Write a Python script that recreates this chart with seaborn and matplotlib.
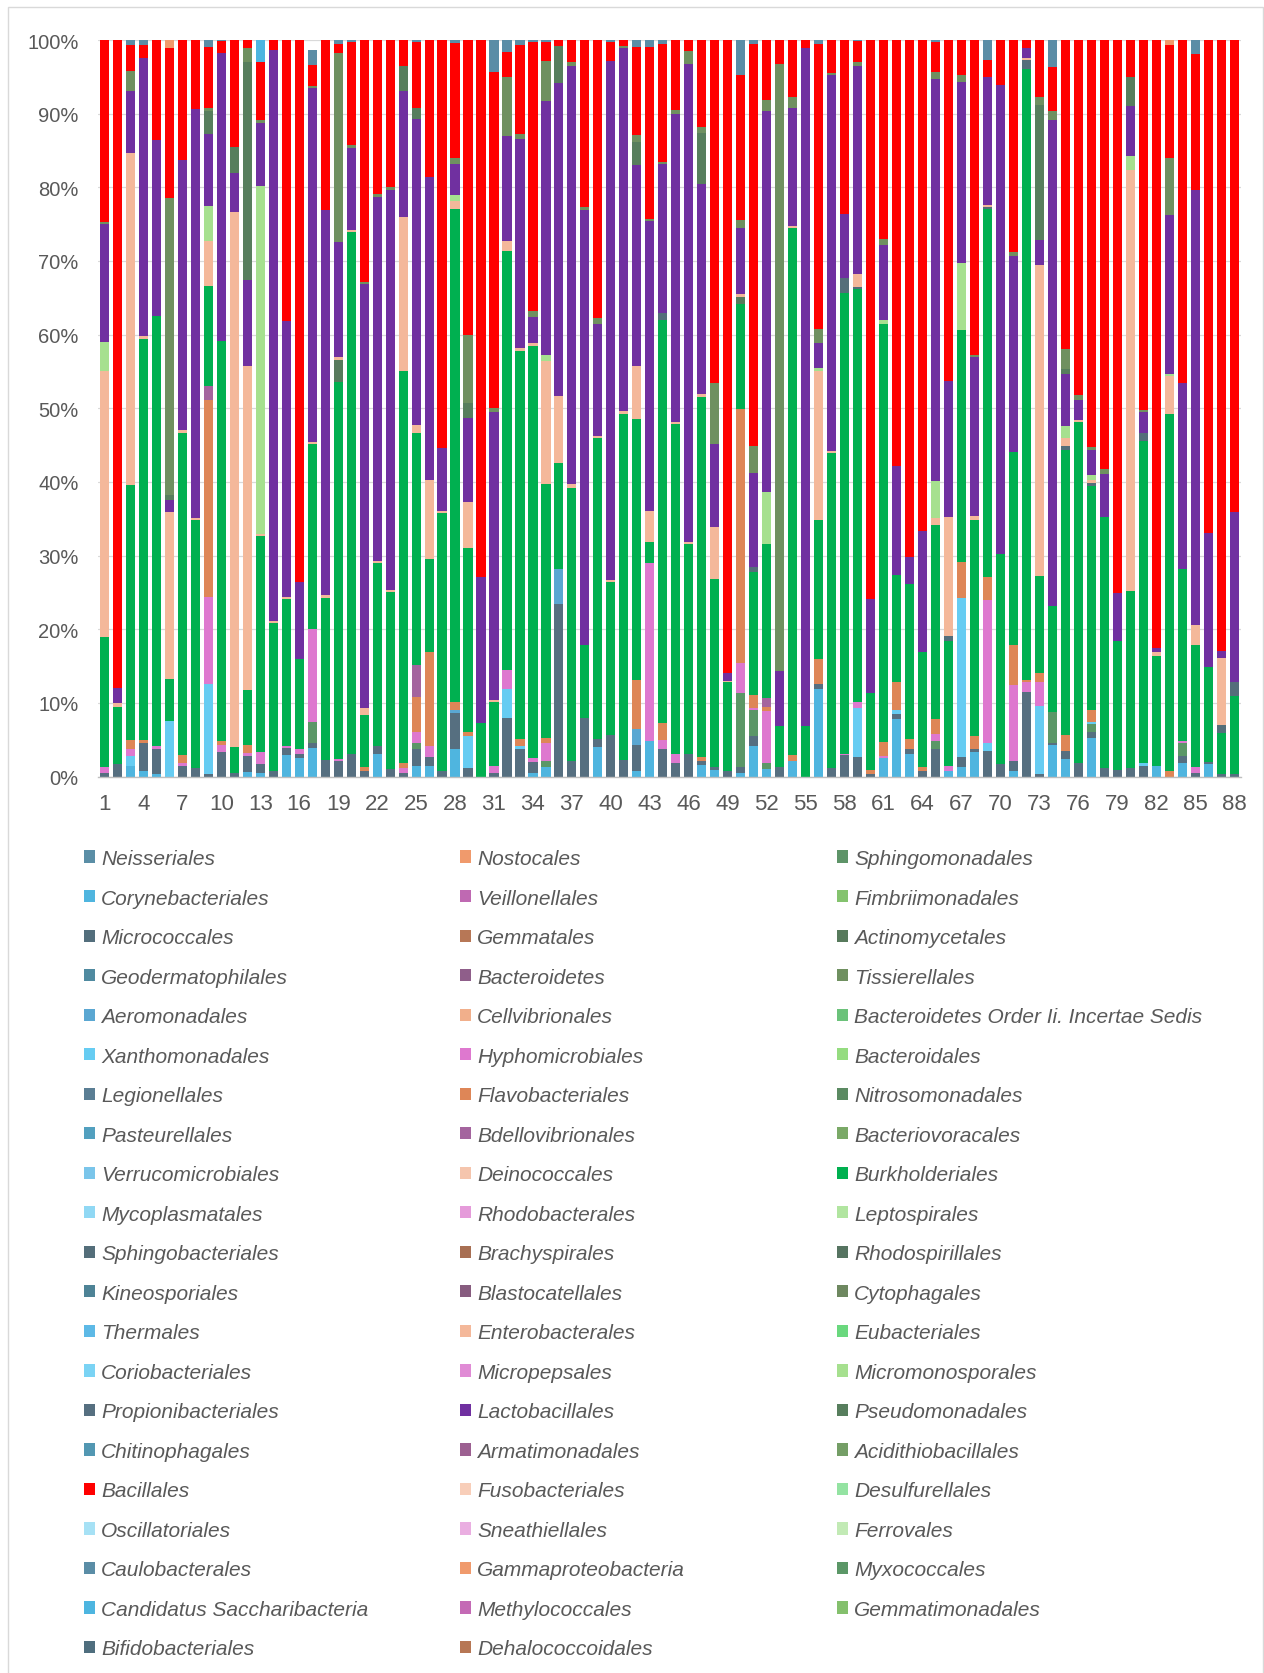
import numpy as np
import pandas as pd
import matplotlib
matplotlib.use('Agg')
import matplotlib.pyplot as plt
from matplotlib.patches import Patch, Rectangle
import seaborn as sns

# Samples 1..88 (relative abundance per order, %)
samples = list(range(1, 89))

bacillales = [
    24.7, 88, 3.5, 1.8, 13.6, 20.4, 16.3, 9.3, 8.2, 1.5,
    14.5, 1.1, 7.8, 1.3, 38.1, 73.6, 2.8, 23.1, 1.2, 14,
    32.8, 20.9, 19.9, 3.5, 8.9, 18.6, 55.4, 15.6, 40, 72.9,
    45.7, 3.4, 12, 36.5, 2.5, 0.8, 3, 22.7, 37.8, 2.5,
    0.8, 11.9, 23.3, 15.9, 9.5, 1.5, 11.8, 46.5, 86, 19.7,
    54.6, 8.1, 3.3, 7.8, 1.1, 38.8, 4.5, 23.6, 2.8, 75.9,
    27, 57.9, 70.2, 66.6, 4, 46.3, 4.8, 42.7, 2.3, 6.1,
    28.8, 1.1, 7.7, 6, 41.9, 48.2, 55.3, 58.2, 75.1, 5,
    50.2, 82.6, 15.3, 46.5, 18.4, 66.9, 82.9, 64.1]

lactobacillales = [
    16, 2, 8.4, 37.7, 23.9, 1.6, 36.7, 55.6, 9.8, 39.1,
    5.3, 11.7, 8.6, 77.6, 37.5, 10.4, 48.1, 52.3, 15.6, 11.2,
    57.6, 49.4, 54.4, 17.1, 41.6, 41.2, 8.5, 4.3, 11.4, 19.8,
    39.1, 14.3, 28.4, 3.5, 34.5, 42.4, 56.8, 59.1, 15.3, 70.5,
    49.2, 27.3, 39.3, 20.2, 41.8, 64.9, 28.5, 11.2, 1, 9,
    12.7, 51.7, 7.6, 16, 92.1, 3.4, 51, 8.7, 28.2, 12.8,
    10.2, 14.8, 3.7, 16.5, 54.6, 18.4, 24.6, 21.6, 17.4, 63.7,
    26.6, 1.3, 3.3, 65.9, 7.1, 2.7, 3.5, 5.9, 6.5, 6.8,
    2.9, 0.5, 21.5, 25.3, 59.1, 18.2, 1, 23]

burkholderiales = [
    17.7, 7.8, 34.6, 54.4, 58.4, 5.6, 43.8, 33.7, 13.6, 54.4,
    3.5, 7.4, 29.4, 20, 20, 12.3, 25.1, 22, 51.2, 70.8,
    7, 24.9, 24, 53.1, 31.6, 12.7, 35, 66.9, 25, 7.3,
    8.7, 56.9, 52.7, 56, 34.4, 14.4, 37.1, 9.9, 40.8, 20.7,
    46.9, 35.5, 2.8, 54.7, 44.8, 28.5, 48.9, 25.5, 12.1, 14.3,
    16.7, 21, 5.5, 71.6, 6.8, 18.9, 42.8, 62.6, 56.1, 10.4,
    56.7, 14.5, 21, 15.6, 26.3, 16.9, 31.5, 29.4, 49.9, 28.5,
    26.3, 83, 13.2, 14.4, 38.8, 46.3, 30.3, 34.1, 17.5, 24.1,
    43.7, 14.9, 48.4, 23.4, 16.5, 12.9, 5.6, 10.7]

enterobacterales = [
    36, 0.5, 45.1, 0.4, 0, 22.7, 0.3, 0.3, 6.1, 0,
    72.7, 44, 0.3, 0.3, 0.3, 0, 0.3, 0.3, 0.5, 0.3,
    1, 0.3, 0.3, 21, 1, 10.6, 0.3, 1.2, 6.3, 0,
    0.3, 1.3, 0.4, 0.4, 16.7, 9.1, 0.5, 0, 0.3, 0.3,
    0.5, 7.1, 4.3, 0, 0.3, 0.3, 0.5, 7.1, 0.2, 0.4,
    0, 0, 0, 0.3, 0, 20.2, 0.3, 0, 1.8, 0,
    0, 0, 0, 0, 1, 16.2, 0, 0.5, 0.3, 0,
    0, 0.3, 42.3, 0, 1, 0.3, 0.3, 0, 0, 57.2,
    0, 0.5, 5.2, 0, 2.8, 0, 9.1, 0]

propionibacteriales = [
    0.5, 1.7, 0, 3.8, 3.5, 0, 1.5, 1.1, 0.4, 3.4,
    0.5, 2.2, 1.2, 0.8, 1, 0.5, 0.7, 2.3, 2.1, 3.1,
    0.8, 1.1, 1, 0.5, 2.3, 1.2, 0.8, 4.9, 1.1, 0,
    0.5, 7.9, 3.8, 1.5, 0, 23.4, 2.1, 7.9, 1.1, 5.7,
    2.3, 3.5, 0, 3.8, 1.8, 3.1, 0.5, 0.4, 0.7, 0.8,
    1.3, 0, 1.3, 0, 0, 0.7, 1.1, 2.9, 2.7, 0.4,
    0, 0.7, 0.8, 0.8, 3.7, 0, 1.4, 0.5, 3.5, 1.7,
    1.3, 11.5, 0.4, 0.2, 1.1, 1.8, 0.8, 1.1, 0.9, 1.1,
    1.5, 0, 0, 1, 0.5, 0.3, 0.3, 0.3]

corynebacteriales = [
    0, 0, 1.5, 0.7, 0.3, 0, 0, 0, 0, 0,
    0, 0.6, 0.5, 0, 2.9, 2.5, 3.9, 0, 0, 0,
    0, 3, 0, 0, 1.5, 1.5, 0, 3.7, 0, 0,
    0, 0, 0, 0.5, 1.3, 0, 0, 0, 4, 0,
    0, 0.8, 4.8, 0, 0, 0, 1.6, 0.9, 0, 0.5,
    4.2, 1, 0, 2.1, 0, 11.9, 0, 0, 0, 0,
    2.5, 7.8, 3, 0, 0, 0.8, 1.3, 3.3, 0, 0,
    0.8, 0, 0, 4.3, 2.4, 0, 5.3, 0, 0, 0,
    0, 1.5, 0, 1.8, 0, 1.7, 0, 0]

# smaller orders: {sample: %}
myxococcales = {17: 2.8, 25: 0.7, 35: 0.8, 50: 10, 51: 3.6, 52: 0.8, 65: 1.1,
                74: 4.3, 77: 1.0, 84: 1.7}
aeromonadales = {28: 0.5, 36: 4.8, 42: 2.2}
xanthomonadales = {3: 1.3, 6: 7.6, 9: 12.2, 29: 4.4, 32: 4, 33: 0.3, 59: 6.6,
                   62: 0.6, 67: 21.5, 69: 1, 73: 9.2, 77: 0.3, 81: 0.3}
hyphomicrobiales = {1: 0.8, 3: 1, 5: 0.3, 7: 0.4, 9: 11.8, 10: 0.9, 12: 0.4,
                    13: 1.6, 15: 0.2, 16: 0.7, 17: 12.6, 19: 0.3, 24: 0.7,
                    25: 1.5, 26: 1.4, 31: 0.9, 32: 2.6, 34: 0.5, 35: 2.5,
                    43: 24.2, 44: 1.2, 45: 1.3, 50: 4.1, 51: 0.2, 52: 7.1,
                    58: 0.2, 59: 0.8, 61: 0.3, 65: 1, 66: 0.7, 69: 19.5,
                    71: 10.4, 72: 1.3, 73: 3.3, 84: 0.3, 85: 0.8}
flavobacteriales = {3: 1.2, 4: 0.5, 7: 1, 9: 26.7, 10: 0.5, 12: 1.1, 21: 0.5,
                    24: 0.7, 25: 4.8, 26: 12.8, 28: 1, 29: 0.5, 33: 1, 35: 0.7,
                    42: 6.6, 44: 2.3, 47: 0.5, 50: 34.5, 51: 1.8, 52: 0.5,
                    54: 0.8, 56: 3.4, 60: 0.5, 61: 1.9, 62: 3.7, 63: 1.3,
                    64: 0.5, 65: 2, 67: 4.9, 68: 1.7, 69: 3.1, 71: 5.3,
                    72: 0.3, 73: 1.1, 75: 2.1, 77: 1.7, 83: 0.8}
bdellovibrionales = {9: 1.9, 25: 4.3, 52: 1.2}
actinomycetales = {19: 2.9, 50: 0.9}
sphingobacteriales = {44: 1, 51: 0.7, 58: 2, 59: 0.3, 66: 0.7, 69: 0.3,
                      72: 1.2, 75: 0.5, 77: 0.5, 81: 1.1, 87: 1.1, 88: 1.9}
micromonosporales = {1: 4, 9: 4.7, 13: 47.2, 28: 0.7, 35: 0.8, 52: 7, 56: 0.4,
                     61: 0.6, 65: 5, 67: 9.1, 75: 1.7, 77: 0.7, 80: 1.8, 83: 0.3}
pseudomonadales = {6: 0.7, 9: 3.1, 11: 3.5, 12: 29.6, 24: 3.4, 25: 1.5, 29: 2,
                   36: 5.1, 42: 3.2, 47: 6.9, 73: 18.4, 75: 0.7, 80: 4}
tissierellales = {1: 0.3, 3: 2.7, 6: 40.3, 9: 0.5, 12: 1.9, 13: 0.4, 17: 0.3,
                  19: 25.6, 20: 0.3, 21: 0.3, 22: 0.4, 23: 0.4, 28: 0.8,
                  29: 9.3, 31: 0.5, 32: 8, 33: 0.7, 34: 0.8, 35: 5.5, 37: 0.5,
                  38: 0.4, 39: 0.7, 41: 0.3, 42: 0.9, 43: 0.3, 44: 0.3,
                  45: 0.5, 46: 1.7, 47: 0.8, 48: 8.4, 50: 1, 51: 3.7, 52: 1.6,
                  53: 82.3, 54: 1.4, 56: 1.8, 57: 0.3, 59: 0.5, 61: 0.8,
                  65: 1, 67: 0.9, 68: 0.3, 71: 0.5, 73: 1.1, 74: 1.2, 75: 2.7,
                  76: 0.7, 77: 0.3, 78: 0.7, 81: 0.3, 83: 7.8}
gammaproteobacteria = {6: 1.1, 83: 0.7}
candidatus_saccharibacteria = {13: 3}
caulobacterales = {3: 0.7, 4: 0.7, 9: 1, 10: 0.2, 17: 2, 19: 0.6, 20: 0.3,
                   25: 0.3, 28: 0.4, 31: 4.3, 32: 1.6, 33: 0.7, 34: 0.3,
                   35: 0.3, 40: 0.3, 42: 1, 43: 1, 44: 0.6, 50: 4.8, 51: 0.5,
                   56: 0.5, 59: 0.2, 65: 0.3, 69: 2.7, 74: 3.7, 85: 1.9}

# legend (three columns, as in the original)
col1_names = ['Neisseriales', 'Corynebacteriales', 'Micrococcales', 'Geodermatophilales',
              'Aeromonadales', 'Xanthomonadales', 'Legionellales', 'Pasteurellales',
              'Verrucomicrobiales', 'Mycoplasmatales', 'Sphingobacteriales', 'Kineosporiales',
              'Thermales', 'Coriobacteriales', 'Propionibacteriales', 'Chitinophagales',
              'Bacillales', 'Oscillatoriales', 'Caulobacterales', 'Candidatus Saccharibacteria',
              'Bifidobacteriales']
col1_colors = ['#5A8EA6', '#4FB5DF', '#536E7C', '#4F8AA0', '#5AA7D2', '#66CCF2', '#5A7E94',
               '#52A0BF', '#7AC5EA', '#90D8F4', '#546E7A', '#4E8396', '#5DB9E6', '#7AD3F4',
               '#566F80', '#5297B2', '#FF0000', '#A6E1F5', '#5A8DA6', '#4DB5E0', '#4F6E7E']
col2_names = ['Nostocales', 'Veillonellales', 'Gemmatales', 'Bacteroidetes', 'Cellvibrionales',
              'Hyphomicrobiales', 'Flavobacteriales', 'Bdellovibrionales', 'Deinococcales',
              'Rhodobacterales', 'Brachyspirales', 'Blastocatellales', 'Enterobacterales',
              'Micropepsales', 'Lactobacillales', 'Armatimonadales', 'Fusobacteriales',
              'Sneathiellales', 'Gammaproteobacteria', 'Methylococcales', 'Dehalococcoidales']
col2_colors = ['#F09A6C', '#BF69B2', '#B77756', '#8F5E8A', '#F1AF8B', '#DE78CF', '#DE8657',
               '#A4649E', '#F5C5AD', '#E59BDA', '#A86F53', '#875C7F', '#F4B89A', '#E08BD5',
               '#7030A0', '#9C6091', '#F8CEB9', '#EAAEE1', '#F09A6C', '#C46AB5', '#B77754']
col3_names = ['Sphingomonadales', 'Fimbriimonadales', 'Actinomycetales', 'Tissierellales',
              'Bacteroidetes Order Ii. Incertae Sedis', 'Bacteroidales', 'Nitrosomonadales',
              'Bacteriovoracales', 'Burkholderiales', 'Leptospirales', 'Rhodospirillales',
              'Cytophagales', 'Eubacteriales', 'Micromonosporales', 'Pseudomonadales',
              'Acidithiobacillales', 'Desulfurellales', 'Ferrovales', 'Myxococcales',
              'Gemmatimonadales']
col3_colors = ['#5E9468', '#84C36E', '#577A5C', '#6F9060', '#6BC27A', '#95DC80', '#5B8A62',
               '#7AA967', '#00B050', '#B1E5A0', '#567461', '#6E8860', '#6AD87E', '#A6E08F',
               '#577E5D', '#749E66', '#94E3A2', '#C2EAB5', '#5B9767', '#84C06D']

colors = dict(zip(col1_names + col2_names + col3_names,
                  col1_colors + col2_colors + col3_colors))


def dense(d):
    return [d.get(s, 0.0) for s in samples]


# bottom -> top stacking order
stack = [
    ('Corynebacteriales', corynebacteriales),
    ('Propionibacteriales', propionibacteriales),
    ('Myxococcales', dense(myxococcales)),
    ('Aeromonadales', dense(aeromonadales)),
    ('Xanthomonadales', dense(xanthomonadales)),
    ('Hyphomicrobiales', dense(hyphomicrobiales)),
    ('Flavobacteriales', dense(flavobacteriales)),
    ('Bdellovibrionales', dense(bdellovibrionales)),
    ('Burkholderiales', burkholderiales),
    ('Actinomycetales', dense(actinomycetales)),
    ('Sphingobacteriales', dense(sphingobacteriales)),
    ('Enterobacterales', enterobacterales),
    ('Micromonosporales', dense(micromonosporales)),
    ('Lactobacillales', lactobacillales),
    ('Pseudomonadales', dense(pseudomonadales)),
    ('Tissierellales', dense(tissierellales)),
    ('Bacillales', bacillales),
    ('Gammaproteobacteria', dense(gammaproteobacteria)),
    ('Candidatus Saccharibacteria', dense(candidatus_saccharibacteria)),
    ('Caulobacterales', dense(caulobacterales)),
]

sns.set_theme(style='white')
plt.rcParams['font.family'] = ['Liberation Sans', 'DejaVu Sans']
text_grey = '#595959'

fig = plt.figure(figsize=(12.64, 16.74), dpi=100)
ax = fig.add_axes([0.0774, 0.5355, 0.9043, 0.44])

df = pd.DataFrame({'sample': [str(s) for s in samples]})
running = np.zeros(len(samples))
tops = []
for name, vals in stack:
    running = running + np.asarray(vals, dtype=float)
    tops.append((name, running.copy()))

# draw cumulative totals from the top layer down so each layer shows its own slice
for name, top in reversed(tops):
    df['top'] = top
    sns.barplot(data=df, x='sample', y='top', color=colors[name], saturation=1,
                width=0.7, errorbar=None, linewidth=0, ax=ax)

ax.set_xlim(-0.5, len(samples) - 0.5)
ax.set_ylim(0, 100)
ax.set_xlabel('')
ax.set_ylabel('')
ax.set_yticks(range(0, 101, 10))
ax.set_yticklabels([f'{v}%' for v in range(0, 101, 10)], fontsize=14.5, color=text_grey)
ax.set_xticks(range(0, len(samples), 3))
ax.set_xticklabels([str(s) for s in samples[::3]], fontsize=16, color=text_grey)
ax.tick_params(axis='y', length=0, pad=14)
ax.tick_params(axis='x', length=0, pad=12)
ax.yaxis.grid(True, color='#D9D9D9', linewidth=0.9)
ax.set_axisbelow(True)
for side in ['left', 'right', 'top']:
    ax.spines[side].set_visible(False)
ax.spines['bottom'].set_color('#BFBFBF')
ax.spines['bottom'].set_linewidth(1)

legend_font = {'family': ['Liberation Sans', 'DejaVu Sans'], 'style': 'italic', 'size': 15}
col_x = [84 / 1264, 460 / 1264, 837 / 1264]
for x0, names in zip(col_x, [col1_names, col2_names, col3_names]):
    handles = [Patch(facecolor=colors[n], edgecolor='none', label=n) for n in names]
    fig.legend(handles=handles, loc='upper left', bbox_to_anchor=(x0, 1 - 850 / 1674),
               frameon=False, prop=legend_font, labelcolor=text_grey,
               handlelength=0.53, handleheight=0.53, handletextpad=0.3,
               labelspacing=0.985, borderpad=0, borderaxespad=0)

fig.patches.append(Rectangle((8 / 1264, -0.01), 1 - 9 / 1264, 1 - 8 / 1674 + 0.01,
                             transform=fig.transFigure, fill=False,
                             edgecolor='#D9D9D9', linewidth=1))

fig.savefig('out.png', dpi=100)
